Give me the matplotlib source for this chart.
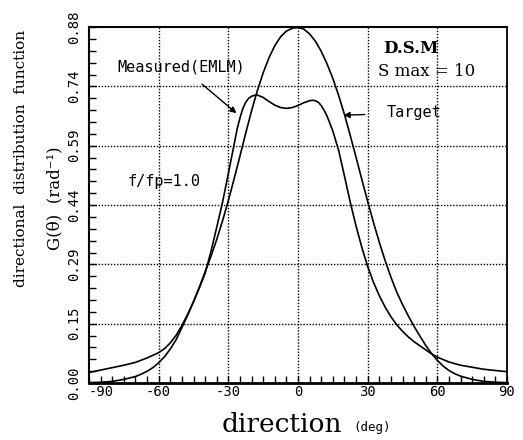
import numpy as np
import matplotlib
matplotlib.use("Agg")
import matplotlib.pyplot as plt
from matplotlib.ticker import MultipleLocator, FixedLocator

# direction (deg) and G(theta)
target_deg = [-90, -85, -80, -75, -70, -67.5, -65, -62.5, -60, -57.5, -55, -52.5, -50, -47.5,
              -45, -42.5, -40, -37.5, -35, -32.5, -30, -27.5, -25, -22.5, -20, -17.5, -15,
              -12.5, -10, -7.5, -5, -2.5, 0, 2.5, 5, 7.5, 10, 12.5, 15, 17.5, 20, 22.5, 25,
              27.5, 30, 32.5, 35, 37.5, 40, 42.5, 45, 47.5, 50, 52.5, 55, 57.5, 60, 62.5,
              65, 67.5, 70, 75, 80, 85, 90]
target_val = [0.001, 0.002, 0.004, 0.009, 0.016, 0.022, 0.029, 0.038, 0.050, 0.065, 0.084,
              0.107, 0.137, 0.168, 0.201, 0.237, 0.275, 0.313, 0.355, 0.401, 0.451, 0.505,
              0.561, 0.618, 0.673, 0.723, 0.767, 0.804, 0.834, 0.856, 0.870, 0.877, 0.879,
              0.875, 0.863, 0.845, 0.820, 0.789, 0.753, 0.711, 0.664, 0.612, 0.558, 0.503,
              0.449, 0.397, 0.348, 0.303, 0.262, 0.225, 0.194, 0.166, 0.140, 0.116, 0.093,
              0.073, 0.056, 0.042, 0.031, 0.023, 0.017, 0.009, 0.004, 0.002, 0.001]

meas_deg = [-90, -85, -80, -75, -70, -65, -60, -57.5, -55, -52.5, -50, -47.5, -45, -42.5,
            -40, -37.5, -35, -32.5, -30, -27.5, -26.25, -25, -23.75, -22.5, -21.25, -20,
            -18.75, -17.5, -15, -12.5, -10, -7.5, -5, -2.5, 0, 2.5, 5, 6.25, 7.5, 8.75,
            10, 11.25, 12.5, 15, 17.5, 20, 22.5, 25, 27.5, 30, 32.5, 35, 37.5, 40, 42.5,
            45, 47.5, 50, 52.5, 55, 57.5, 60, 65, 70, 75, 80, 85, 90]
meas_val = [0.026, 0.032, 0.038, 0.044, 0.051, 0.062, 0.075, 0.085, 0.099, 0.118, 0.142,
            0.170, 0.201, 0.235, 0.271, 0.325, 0.385, 0.447, 0.518, 0.590, 0.627, 0.655,
            0.679, 0.694, 0.704, 0.709, 0.711, 0.712, 0.706, 0.696, 0.687, 0.681, 0.679,
            0.681, 0.686, 0.693, 0.698, 0.699, 0.698, 0.694, 0.686, 0.674, 0.660, 0.623,
            0.575, 0.512, 0.447, 0.388, 0.335, 0.288, 0.249, 0.216, 0.188, 0.164, 0.144,
            0.128, 0.114, 0.102, 0.092, 0.082, 0.072, 0.064, 0.052, 0.044, 0.039, 0.034,
            0.031, 0.028]

x_ticks = [-90, -60, -30, 0, 30, 60, 90]
y_ticks = list(np.linspace(0, 0.88, 7))
y_labels = ["0.00", "0.15", "0.29", "0.44", "0.59", "0.74", "0.88"]

mono = "DejaVu Sans Mono"
serif = "DejaVu Serif"

fig = plt.figure(figsize=(5.23, 4.40), dpi=100)
ax = fig.add_axes([0.1702, 0.1295, 0.7992, 0.809])

ax.plot(target_deg, target_val, color="black", lw=1.2)
ax.plot(meas_deg, meas_val, color="black", lw=1.2)

ax.set_xlim(-90, 90)
ax.set_ylim(0, 0.88)

# dotted grid on the inner lines only
for gx in x_ticks[1:-1]:
    ax.axvline(gx, color="black", lw=1.0, ls=(0, (1, 1.2)))
for gy in y_ticks[1:-1]:
    ax.axhline(gy, color="black", lw=1.0, ls=(0, (1, 1.2)))

ax.xaxis.set_major_locator(FixedLocator(x_ticks))
ax.xaxis.set_minor_locator(MultipleLocator(5))
ax.yaxis.set_major_locator(FixedLocator(y_ticks))
ax.yaxis.set_minor_locator(MultipleLocator(0.88 / 30))
ax.set_yticklabels(y_labels, family=mono, fontsize=10, rotation=90, va="center")
ax.set_xticklabels([str(v) for v in x_ticks], family=mono, fontsize=10)
ax.get_xticklabels()[0].set_horizontalalignment("left")
ax.tick_params(axis="both", which="both", direction="in", length=5, width=1.0,
               top=False, right=False)
ax.tick_params(axis="x", pad=1.5)
ax.tick_params(axis="y", pad=6)

ax.spines["bottom"].set_linewidth(2.0)
ax.spines["left"].set_linewidth(1.5)
ax.spines["right"].set_linewidth(1.3)
ax.spines["top"].set_linewidth(1.5)
ax.spines["top"].set_linestyle((0, (3, 1)))

# annotations
ax.annotate("Measured(EMLM)", xy=(-26.5, 0.667), xytext=(-50.2, 0.782),
            family=mono, fontsize=11, ha="center", va="center",
            arrowprops=dict(arrowstyle="-|>", color="black", lw=1.0, mutation_scale=9,
                            shrinkA=8, shrinkB=0))
ax.annotate("Target", xy=(19.6, 0.662), xytext=(50.1, 0.668),
            family=mono, fontsize=11, ha="center", va="center",
            arrowprops=dict(arrowstyle="-|>", color="black", lw=1.0, mutation_scale=9,
                            shrinkA=14, shrinkB=0))
ax.text(36.7, 0.827, "D.S.M", family=serif, fontweight="bold", fontsize=12,
        ha="left", va="center")
ax.text(34.5, 0.771, "S max = 10", family=serif, fontsize=12, ha="left", va="center")
ax.text(-73.4, 0.498, "f/fp=1.0", family=mono, fontsize=11, ha="left", va="center")

# axis titles
fig.text(21 / 523, 1 - 158 / 440, "directional  distribution  function", family=serif,
         fontsize=11, rotation=90, ha="center", va="center")
fig.text(55 / 523, 1 - 198 / 440, "G(θ)  (rad⁻¹)", family=serif, fontsize=12,
         rotation=90, ha="center", va="center")
fig.text(282 / 523, 1 - 424 / 440, "direction", family=serif, fontsize=19,
         ha="center", va="center")
fig.text(353 / 523, 1 - 427 / 440, "(deg)", family=mono, fontsize=9,
         ha="left", va="center")

fig.savefig("out.png", dpi=100)
